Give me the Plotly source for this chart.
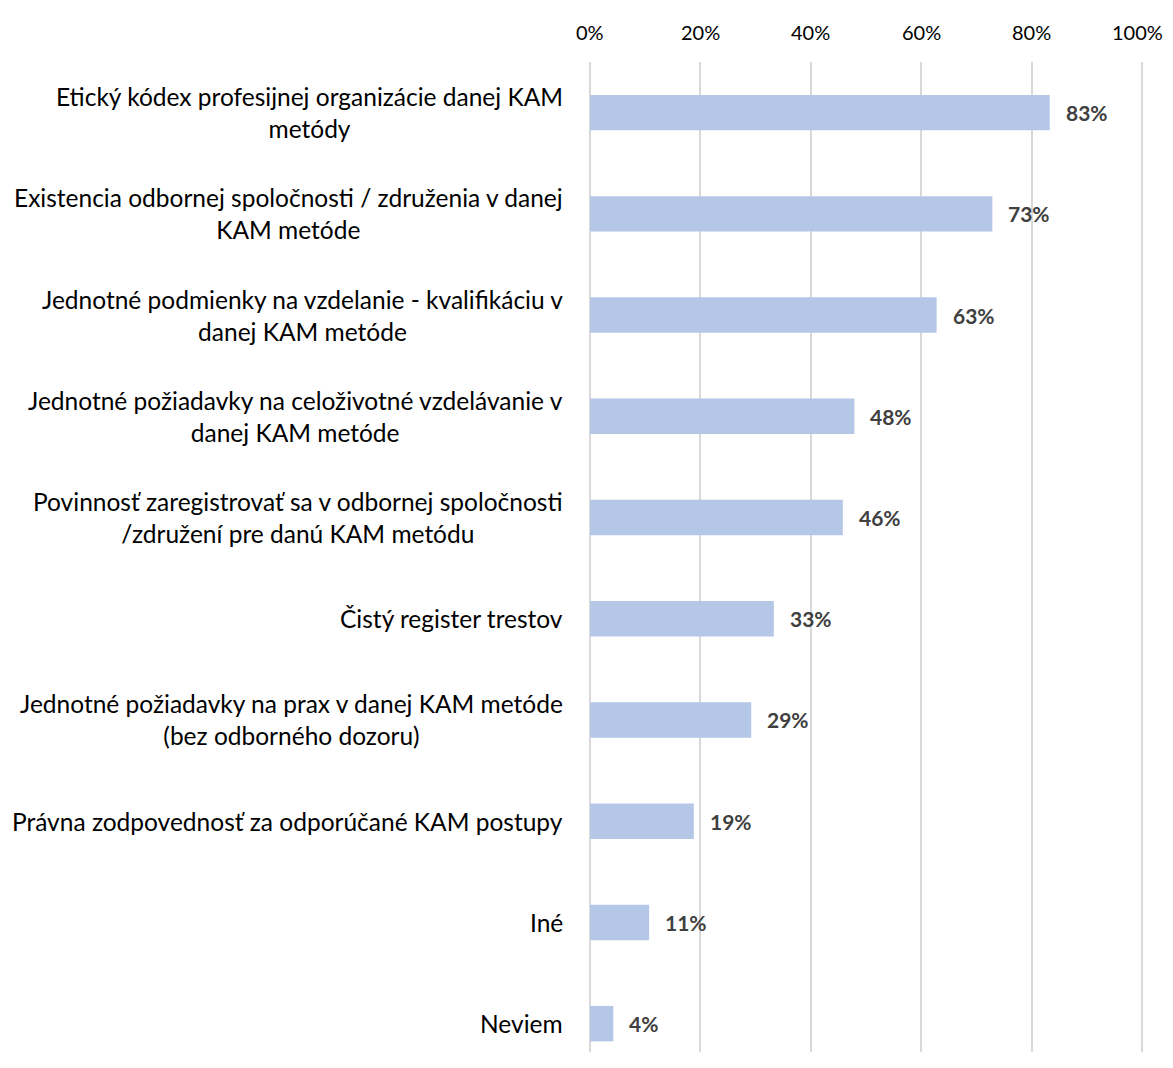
import plotly.graph_objects as go

categories = [
    "Etický kódex profesijnej organizácie danej KAM<br>metódy",
    "Existencia odbornej spoločnosti / združenia v danej<br>KAM metóde",
    "Jednotné podmienky na vzdelanie - kvalifikáciu v<br>danej KAM metóde",
    "Jednotné požiadavky na celoživotné vzdelávanie v<br>danej KAM metóde",
    "Povinnosť zaregistrovať sa v odbornej spoločnosti<br>/združení pre danú KAM metódu",
    "Čistý register trestov",
    "Jednotné požiadavky na prax v danej KAM metóde<br>(bez odborného dozoru)",
    "Právna zodpovednosť za odporúčané KAM postupy",
    "Iné",
    "Neviem",
]
values = [0.833, 0.729, 0.628, 0.479, 0.458, 0.333, 0.292, 0.188, 0.107, 0.042]
tick_vals = [0, 0.2, 0.4, 0.6, 0.8, 1.0]
tick_text = ["0%", "20%", "40%", "60%", "80%", "100%"]

FONT = "Lato"
pos = list(range(len(categories)))

fig = go.Figure()
fig.add_trace(go.Bar(
    x=values, y=pos, orientation="h", width=0.35,
    marker=dict(color="#B4C7E7", line=dict(width=0)),
    hoverinfo="skip",
))

annotations = []
for p, v, c in zip(pos, values, categories):
    annotations.append(dict(
        x=v, y=p, xref="x", yref="y", text=f"<b>{round(v*100):.0f}%</b>",
        xanchor="left", yanchor="middle", xshift=14, showarrow=False,
        font=dict(family=FONT, size=21, color="#404040"),
    ))
    annotations.append(dict(
        x=0, y=p, xref="paper", yref="y", text=c, align="center",
        xanchor="right", yanchor="middle", xshift=-24, showarrow=False,
        font=dict(family=FONT, size=24.5, color="#000000"),
    ))

# top axis tick labels (last one nudged so it stays inside the view)
for i, (tv, tt) in enumerate(zip(tick_vals, tick_text)):
    annotations.append(dict(
        x=tv, y=1, xref="x", yref="paper", text=tt,
        xanchor="center", yanchor="middle", yshift=30,
        xshift=-4 if i == len(tick_vals) - 1 else 0, showarrow=False,
        font=dict(family=FONT, size=20, color="#000000"),
    ))

fig.update_layout(
    width=1157, height=1044,
    margin=dict(l=581, r=22, t=54, b=0),
    plot_bgcolor="white", paper_bgcolor="white",
    showlegend=False,
    annotations=annotations,
    xaxis=dict(
        side="top", range=[-0.002, 1.002], tickvals=tick_vals,
        showticklabels=False,
        showgrid=True, gridcolor="#D9D9D9", gridwidth=2, zeroline=False,
        showline=False, ticks="", automargin=False, layer="below traces",
    ),
    yaxis=dict(
        range=[9.28, -0.5], showticklabels=False, showgrid=False,
        zeroline=False, showline=False, ticks="", automargin=False,
    ),
)

fig.write_html("out.html")
